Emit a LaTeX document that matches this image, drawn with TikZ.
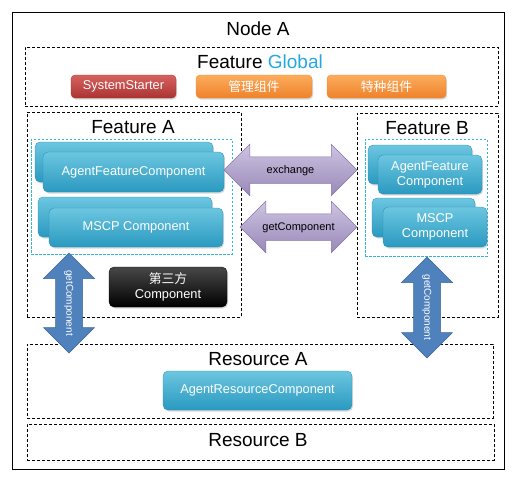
\documentclass[tikz,border=0pt]{standalone}
\usepackage{fontspec}
\setmainfont{Liberation Sans}
\newfontfamily\cjk{Noto Sans CJK SC}
\usepackage{tikz}
\usetikzlibrary{positioning}
\usetikzlibrary{shapes.arrows}
\usetikzlibrary{shadows}

\definecolor{cardtop}{RGB}{108,198,224}
\definecolor{cardbot}{RGB}{42,153,192}
\definecolor{cardedge}{RGB}{40,140,178}
\definecolor{redtop}{RGB}{214,98,96}
\definecolor{redbot}{RGB}{170,52,50}
\definecolor{orangetop}{RGB}{252,172,92}
\definecolor{orangebot}{RGB}{238,130,44}
\definecolor{inktop}{RGB}{72,72,72}
\definecolor{inkbot}{RGB}{0,0,0}
\definecolor{lilactop}{RGB}{206,196,226}
\definecolor{lilacbot}{RGB}{152,136,184}
\definecolor{lilacedge}{RGB}{135,118,168}
\definecolor{steel}{RGB}{79,129,189}
\definecolor{steeledge}{RGB}{62,102,152}
\definecolor{globalblue}{RGB}{36,168,224}
\definecolor{groupline}{RGB}{52,178,216}

\begin{document}
\begin{tikzpicture}[x=1pt,y=-1pt,
  region/.style={draw,dash pattern=on 3pt off 2pt,line width=0.6pt,inner sep=0pt},
  group/.style={draw=groupline,dash pattern=on 2.5pt off 1.5pt,line width=0.5pt,inner sep=0pt},
  title/.style={font=\fontsize{19}{22}\selectfont,inner sep=0pt},
  card/.style={rounded corners=5pt,top color=cardtop,bottom color=cardbot,draw=cardedge,line width=0.3pt,
    text=white,font=\fontsize{12.8}{15}\selectfont,align=center,inner sep=0pt,
    drop shadow={shadow xshift=1pt,shadow yshift=-1.5pt,opacity=0.3}},
  tag/.style={card,rounded corners=4pt,minimum height=23pt},
  redtag/.style={tag,top color=redtop,bottom color=redbot,draw=redbot},
  orangetag/.style={tag,top color=orangetop,bottom color=orangebot,draw=orangebot},
  inkcard/.style={card,top color=inktop,bottom color=inkbot,draw=inkbot},
  flat/.style={double arrow,double arrow head extend=12.5pt,inner xsep=0pt,inner ysep=8pt,
    text height=8pt,text depth=2pt,font=\fontsize{11}{13}\selectfont,
    top color=lilactop,bottom color=lilacbot,draw=lilacedge,line width=0.5pt},
  upright/.style={double arrow,double arrow head extend=12pt,inner xsep=0pt,inner ysep=8.5pt,
    text height=7.5pt,text depth=2pt,font=\fontsize{10}{12}\selectfont,rotate=-90,
    fill=steel,draw=steeledge,line width=0.5pt,text=white}]

\useasboundingbox (0,0) rectangle (518,488);

\node[draw,line width=0.8pt,minimum width=492pt,minimum height=457pt,inner sep=0pt] (node a) at (258,240.5) {};
\node[title] (node a title) at (258,29) {Node A};

% feature global
\node[region,minimum width=473pt,minimum height=59pt] (global) at (261.5,76.5) {};
\node[title] (global title) at (260,62) {Feature \textcolor{globalblue}{Global}};
\node[redtag,minimum width=105pt] (starter) at (123.5,86.5) {SystemStarter};
\node[orangetag,minimum width=116pt] (manage) at (254,86.5) {\cjk 管理组件};
\node[orangetag,minimum width=119pt] (special) at (386.5,86.5) {\cjk 特种组件};

% feature a
\node[region,minimum width=214pt,minimum height=205pt] (feature a) at (134,214.5) {};
\node[title] (feature a title) at (133,127) {Feature A};
\node[group,minimum width=201pt,minimum height=115pt] (group a) at (131.5,196.5) {};
\node[card,minimum width=178pt,minimum height=40pt] (agent a back) at (124,162) {};
\node[card,minimum width=181pt,minimum height=40pt] (agent a) at (133.5,172) {AgentFeatureComponent};
\node[card,minimum width=174pt,minimum height=40pt] (mscp a back) at (125,217) {};
\node[card,minimum width=174pt,minimum height=39pt] (mscp a) at (136,227.5) {MSCP Component};
\node[inkcard,minimum width=118pt,minimum height=40pt] (third) at (168,287) {{\cjk 第三方}\\Component};

% feature b
\node[region,minimum width=141pt,minimum height=204pt] (feature b) at (427.5,215) {};
\node[title] (feature b title) at (427,128) {Feature B};
\node[group,minimum width=122pt,minimum height=117pt] (group b) at (426,197.5) {};
\node[card,minimum width=104pt,minimum height=39pt] (agent b back) at (420,164.5) {};
\node[card,minimum width=104pt,minimum height=39pt] (agent b) at (430,174.5) {AgentFeature\\Component};
\node[card,minimum width=103pt,minimum height=39pt] (mscp b back) at (423.5,217.5) {};
\node[card,minimum width=104pt,minimum height=40pt] (mscp b) at (435,227) {MSCP\\Component};

% resources
\node[region,minimum width=466pt,minimum height=74pt] (resource a) at (260,381) {};
\node[title] (resource a title) at (258,359) {Resource A};
\node[card,minimum width=189pt,minimum height=39pt] (resource) at (257.5,390.5) {AgentResourceComponent};
\node[region,minimum width=467pt,minimum height=36pt] (resource b) at (260.5,442) {};
\node[title] (resource b title) at (258,440) {Resource B};

% arrows
\node[flat,minimum height=133pt] (exchange) at (290.5,170) {exchange};
\node[flat,minimum height=117pt] (get) at (298.5,227) {getComponent};
\node[upright,minimum height=100pt] (get a) at (69,303) {getComponent};
\node[upright,minimum height=101pt] (get b) at (427,307.5) {getComponent};

\end{tikzpicture}
\end{document}
